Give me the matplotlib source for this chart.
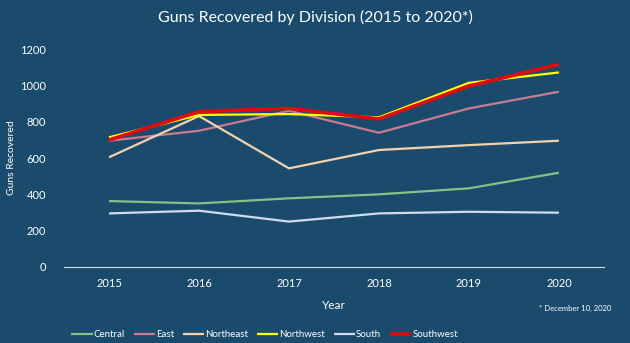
import matplotlib.pyplot as plt

years = ["2015", "2016", "2017", "2018", "2019", "2020"]

central = [363, 350, 378, 400, 433, 519]
east = [695, 750, 860, 739, 873, 965]
northeast = [604, 831, 543, 644, 671, 695]
northwest = [714, 837, 842, 824, 1014, 1071]
south = [295, 310, 250, 295, 304, 299]
southwest = [699, 855, 873, 815, 996, 1115]

series = [
    ("Central", central, "#86c18a", 1.6),
    ("East", east, "#c97b92", 1.6),
    ("Northeast", northeast, "#f2d2ae", 1.6),
    ("Northwest", northwest, "#ffff00", 1.6),
    ("South", south, "#cfdcec", 1.6),
    ("Southwest", southwest, "#e00b0b", 2.6),
]

BG = "#1a4b6d"
TEXT = "white"

plt.rcParams["font.family"] = ["Lato", "DejaVu Sans"]

fig = plt.figure(figsize=(6.3, 3.43), dpi=100, facecolor=BG)
ax = fig.add_axes([0.1016, 0.2216, 0.857, 0.6355], facecolor=BG)

x = list(range(len(years)))
for name, values, color, width in series:
    ax.plot(x, values, color=color, lw=width, label=name, solid_capstyle="butt")

ax.set_xlim(-0.5, len(years) - 0.5)
ax.set_ylim(0, 1200)
ax.set_yticks(range(0, 1201, 200))
ax.set_xticks(x)
ax.set_xticklabels(years)
ax.tick_params(colors=TEXT, labelsize=8, length=0)
ax.tick_params(axis="x", pad=8)
ax.tick_params(axis="y", pad=13)

for side in ["top", "right", "left"]:
    ax.spines[side].set_visible(False)
ax.spines["bottom"].set_color("#d9d9d9")
ax.spines["bottom"].set_linewidth(0.8)

ax.set_xlabel("Year", color=TEXT, fontsize=8.5, labelpad=8)
ax.set_ylabel("Guns Recovered", color=TEXT, fontsize=7.5)
ax.yaxis.set_label_coords(-0.089, 0.5)

fig.text(0.5, 0.95, "Guns Recovered by Division (2015 to 2020*)", color=TEXT,
         fontsize=11.5, ha="center", va="center")
fig.text(0.97, 0.1, "* December 10, 2020", color=TEXT, fontsize=5.5, ha="right", va="center")

fig.legend(loc="center", bbox_to_anchor=(0.42, 0.025), ncol=6, frameon=False,
           fontsize=7, labelcolor=TEXT, handlelength=2.2, handletextpad=0.1,
           columnspacing=0.9)

fig.savefig("out.png", dpi=100, facecolor=BG)
